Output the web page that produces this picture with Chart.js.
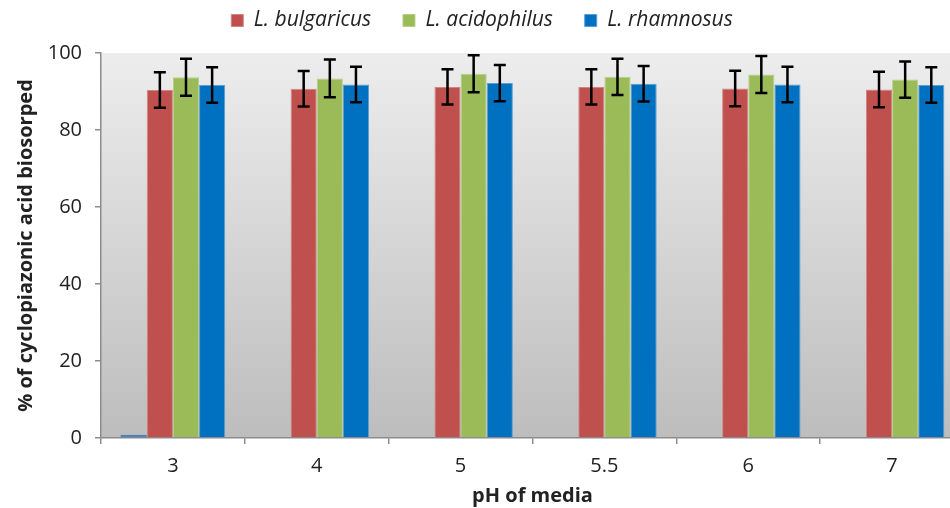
<!DOCTYPE html>
<html>
<head>
<meta charset="utf-8">
<script src="https://cdn.jsdelivr.net/npm/chart.js@4"></script>
<style>
html,body{margin:0;padding:0;background:#fff;overflow:hidden;width:950px;height:508px}
</style>
</head>
<body>
<canvas id="myChart" width="970" height="508"></canvas>
<script>
let labels=['3','4','5','5.5','6','7']
let names=['L. bulgaricus','L. acidophilus','L. rhamnosus']
let bulgaricus=[90.4,90.7,91.2,91.2,90.8,90.5]
let acidophilus=[93.7,93.4,94.6,93.8,94.4,93.1]
let rhamnosus=[91.7,91.8,92.2,92.0,91.8,91.7]
let errBulg=[4.6,4.6,4.6,4.6,4.6,4.6]
let errAcid=[4.8,4.9,4.8,4.7,4.8,4.7]
let errRham=[4.6,4.6,4.7,4.6,4.6,4.6]
// small stray series that shows up at pH 3 only
let extra=[0.8,0,0,0,0,0]

const fontName='"Open Sans", sans-serif'

// gray gradient in the plot area
const bgPlugin={
  id:'bg',
  beforeDraw(chart){
    const {ctx,chartArea:a}=chart
    const g=ctx.createLinearGradient(0,a.top,0,a.bottom)
    g.addColorStop(0,'#ededed')
    g.addColorStop(1,'#bdbdbd')
    ctx.save()
    ctx.fillStyle=g
    ctx.fillRect(a.left,a.top,a.right-a.left,a.bottom-a.top)
    ctx.restore()
  }
}

// extra room under the legend
const legendGap={
  id:'legendGap',
  beforeInit(chart){
    const fit=chart.legend.fit
    chart.legend.fit=function(){
      fit.call(this)
      this.height+=12
    }
  }
}

// error bars drawn through the y scale
const errPlugin={
  id:'err',
  afterDatasetsDraw(chart){
    const ctx=chart.ctx
    const y=chart.scales.y
    ctx.save()
    ctx.strokeStyle='#000'
    ctx.lineWidth=2.5
    chart.data.datasets.forEach((ds,i)=>{
      if(!ds.errors) return
      const meta=chart.getDatasetMeta(i)
      meta.data.forEach((bar,j)=>{
        const v=ds.data[j], e=ds.errors[j]
        const top=y.getPixelForValue(v+e), bot=y.getPixelForValue(v-e)
        const x=bar.x
        ctx.beginPath()
        ctx.moveTo(x,top);ctx.lineTo(x,bot)
        ctx.moveTo(x-6,top);ctx.lineTo(x+6,top)
        ctx.moveTo(x-6,bot);ctx.lineTo(x+6,bot)
        ctx.stroke()
      })
    })
    ctx.restore()
  }
}

const ctx=document.getElementById('myChart')
new Chart(ctx,{
  type:'bar',
  data:{
    labels:labels,
    datasets:[
      {label:'extra',data:extra,backgroundColor:'#4f81bd'},
      {label:names[0],data:bulgaricus,errors:errBulg,backgroundColor:'#c0504d',borderColor:'#d08583',borderWidth:1},
      {label:names[1],data:acidophilus,errors:errAcid,backgroundColor:'#9bbb59',borderColor:'#b7cf88',borderWidth:1},
      {label:names[2],data:rhamnosus,errors:errRham,backgroundColor:'#0070c0',borderColor:'#5a9fd4',borderWidth:1}
    ]
  },
  options:{
    responsive:false,
    animation:false,
    datasets:{bar:{categoryPercentage:0.727,barPercentage:1}},
    layout:{padding:{top:0,right:6,left:0,bottom:0}},
    plugins:{
      tooltip:{enabled:false},
      legend:{
        position:'top',
        labels:{
          filter:(item)=>item.text!=='extra',
          generateLabels:(chart)=>{
            // trailing spaces widen the gap between legend entries
            return Chart.defaults.plugins.legend.labels.generateLabels(chart).map(it=>{
              if(it.text===names[0]||it.text===names[1]) it.text=it.text+'    '
              return it
            })
          },
          boxWidth:12,boxHeight:12,padding:10,
          color:'#222',
          font:{family:fontName,size:21,style:'italic'}
        }
      }
    },
    scales:{
      x:{
        afterFit:(s)=>{s.height=70},
        grid:{display:true,drawOnChartArea:false,offset:true,tickLength:6,color:'#8c8c8c',lineWidth:1.5},
        border:{color:'#8c8c8c',width:1.5},
        ticks:{color:'#222',padding:10,font:{family:fontName,size:20}},
        title:{display:true,text:'pH of media',color:'#222',padding:{top:0,bottom:0},font:{family:fontName,size:20,weight:'bold'}}
      },
      y:{
        min:0,max:100,
        afterFit:(s)=>{s.width=101},
        grid:{display:true,drawOnChartArea:false,tickLength:6,color:'#8c8c8c',lineWidth:1.5},
        border:{color:'#8c8c8c',width:1.5},
        ticks:{stepSize:20,color:'#222',padding:13,font:{family:fontName,size:20}},
        title:{display:true,text:'% of cyclopiazonic acid biosorped',color:'#222',padding:{top:14,bottom:0},font:{family:fontName,size:20,weight:'bold'}}
      }
    }
  },
  plugins:[bgPlugin,legendGap,errPlugin]
})
</script>
</body>
</html>
